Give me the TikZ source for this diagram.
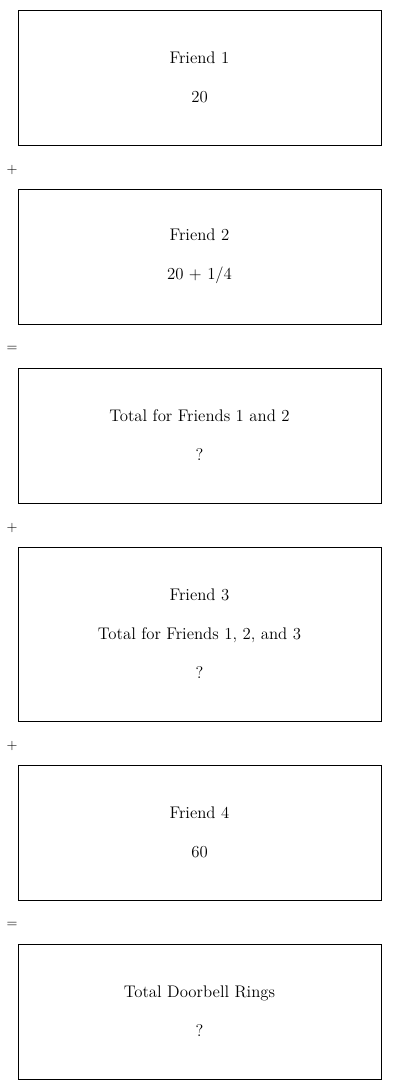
\documentclass[tikz,border=0pt]{standalone}
\usepackage{tikz}
\usetikzlibrary{positioning}

\begin{document}
\begin{tikzpicture}[
  x=0.75pt, y=-0.75pt,
  every node/.style={font=\fontsize{12.6}{29.25}\selectfont},
  stepbox/.style={draw, line width=0.75pt, minimum width=272.25pt, minimum height=101.25pt, align=center, inner sep=0pt},
  tallbox/.style={stepbox, minimum height=130.5pt},
  opsign/.style={font=\fontsize{10.5}{12}\selectfont, inner sep=0pt},
]
\useasboundingbox (0,0) rectangle (400,1090);

% ---- Boxes, top to bottom ----
\node[stepbox] (friend1) at (199.5,77.5) {Friend 1\\20};
\node[stepbox] (friend2) at (199.5,256.5) {Friend 2\\20 + 1/4};
\node[stepbox] (total12) at (199.5,435.5) {Total for Friends 1 and 2\\?};
\node[tallbox] (friend3) at (199.5,634) {Friend 3\\Total for Friends 1, 2, and 3\\?};
\node[stepbox] (friend4) at (199.5,832.5) {Friend 4\\60};
\node[stepbox] (totalrings) at (199.5,1011.5) {Total Doorbell Rings\\?};

% ---- Operators between boxes ----
\foreach \name/\sign/\y in {plus1/+/170, eq1/=/349, plus2/+/528, plus3/+/746, eq2/=/925} {
  \node[opsign] (\name) at (12,\y) {\sign};
}

\end{tikzpicture}
\end{document}
